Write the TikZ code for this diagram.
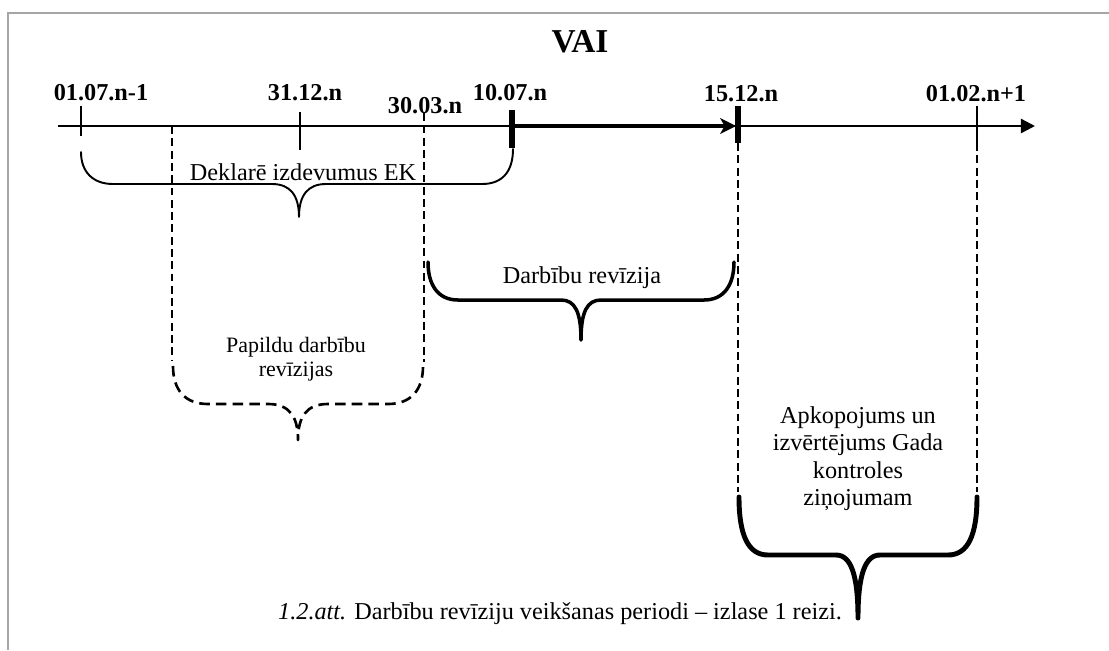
\documentclass[tikz,border=0pt]{standalone}
\usepackage{fontspec}
\setmainfont{Liberation Serif}
\usetikzlibrary{arrows.meta,positioning}
\tikzset{
    datelabel/.style={font=\fontsize{13.8}{16}\selectfont\bfseries, inner sep=0pt, anchor=base},
    bodytext/.style={font=\fontsize{13.8}{15.7}\selectfont, inner sep=0pt, align=center},
    timeaxis/.style={line width=1.3pt, -{Triangle[length=8pt,width=8pt]}},
    activeaxis/.style={line width=2.8pt, -{Stealth[length=9pt,width=9pt,inset=2.5pt]}},
    thintick/.style={line width=0.8pt},
    thicktick/.style={line width=3.2pt},
    guide/.style={line width=0.6pt, dash pattern=on 4.5pt off 2.5pt},
    bracethin/.style={line width=1.1pt, line join=round, line cap=round},
    bracemid/.style={line width=2pt, line join=round, line cap=round},
    bracebold/.style={line width=2.8pt, line join=round, line cap=round},
    bracedash/.style={line width=1.5pt, line join=round, dash pattern=on 6pt off 3.5pt}
}

\begin{document}
\begin{tikzpicture}[x=0.02cm, y=-0.02cm]
    \useasboundingbox (0,0) rectangle (1109,650);
    \draw[gray!70, line width=0.9pt] (8,650) -- (8,13) -- (1109,13);

    % 1. Virsraksts un datumi
    \node[font=\fontsize{19}{22}\selectfont\bfseries, inner sep=0pt, anchor=base] (title) at (580,52) {VAI};
    \node[datelabel] (d0107) at (101,100) {01.07.n-1};
    \node[datelabel] (d3112) at (305,100) {31.12.n};
    \node[datelabel] (d3003) at (425,113) {30.03.n};
    \node[datelabel] (d1007) at (510,100) {10.07.n};
    \node[datelabel] (d1512) at (741,101) {15.12.n};
    \node[datelabel] (d0102) at (976,101) {01.02.n+1};

    % 2. Laika ass
    \coordinate (axstart) at (58,126);
    \coordinate (axend) at (1035,126);
    \coordinate (actstart) at (512,126);
    \coordinate (actend) at (736,126);
    \draw[timeaxis] (axstart) -- (axend);
    \draw[activeaxis] (actstart) -- (actend);

    % 3. Atzīmes un palīglīnijas
    \draw[thintick] (81,106) -- (81,136);
    \draw[thintick] (300,112) -- (300,150);
    \draw[thicktick] (512,110) -- (512,148);
    \draw[thicktick] (738,106) -- (738,143);
    \draw[thintick] (977,106) -- (977,143);
    \draw[guide] (172,126) -- (172,360);
    \draw[guide] (424,113) -- (424,362);
    \draw[guide] (738,143) -- (738,492);
    \draw[guide] (977,143) -- (977,492);

    % 4. Iekavas
    \draw[bracethin] (81,152) .. controls (81,172) and (93,184) .. (113,184) -- (272,184)
        .. controls (290,184) and (299,195) .. (299,217)
        .. controls (299,195) and (308,184) .. (326,184) -- (482,184)
        .. controls (502,184) and (513,172) .. (513,149);
    \draw[bracemid] (428,262) .. controls (428,285) and (438,300) .. (458,300) -- (561,300)
        .. controls (575,300) and (581,312) .. (581,340)
        .. controls (581,312) and (587,300) .. (601,300) -- (704,300)
        .. controls (724,300) and (734,285) .. (734,262);
    \draw[bracedash] (173,366) .. controls (173,390) and (185,404) .. (208,404) -- (268,404)
        .. controls (289,404) and (298,416) .. (298,440)
        .. controls (298,416) and (307,404) .. (328,404) -- (388,404)
        .. controls (411,404) and (423,390) .. (423,366);
    \draw[bracebold] (739,497) .. controls (739,535) and (748,555) .. (768,555) -- (836,555)
        .. controls (851,555) and (858,575) .. (858,618)
        .. controls (858,575) and (865,555) .. (880,555) -- (948,555)
        .. controls (968,555) and (977,535) .. (977,497);

    % 5. Teksti
    \node[bodytext, anchor=base] (deklare) at (303,180) {Deklarē izdevumus EK};
    \node[bodytext, anchor=base] (darbibas) at (582,283) {Darbību revīzija};
    \node[bodytext, font=\fontsize{12.5}{13.6}\selectfont, anchor=north] (papildu) at (296,337) {Papildu darbību\\revīzijas};
    \node[bodytext, anchor=north] (apkopo) at (858,406) {Apkopojums un\\izvērtējums Gada\\kontroles\\ziņojumam};
    \node[bodytext, anchor=base] (caption) at (560,619) {\textit{1.2.att.} Darbību revīziju veikšanas periodi – izlase 1 reizi.};
\end{tikzpicture}
\end{document}
